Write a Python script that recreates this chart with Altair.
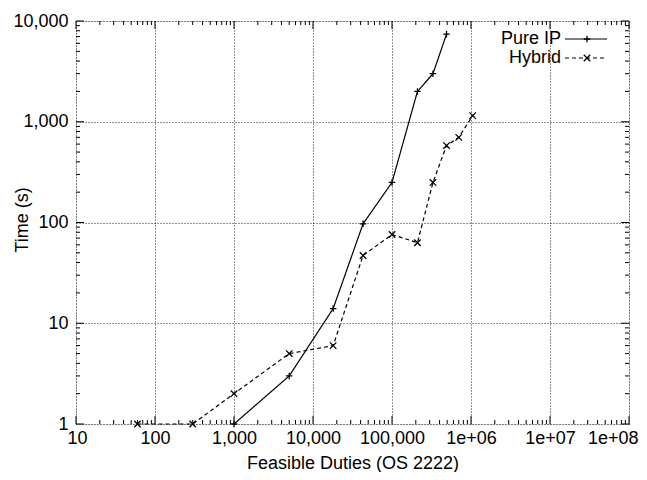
import altair as alt
import pandas as pd

# ---- data ----
pure_x = [1000, 5000, 18000, 43000, 100000, 210000, 330000, 490000]
pure_y = [1, 3, 14, 97, 250, 2000, 3000, 7400]
hyb_x = [60, 300, 1000, 5000, 18000, 43000, 100000, 210000, 330000, 490000, 700000, 1050000]
hyb_y = [1, 1, 2, 5, 6, 47, 76, 63, 250, 580, 700, 1150]
series_names = ["Pure IP", "Hybrid"]

x_ticks = [10, 100, 1000, 10000, 100000, 1000000, 10000000, 100000000]
y_ticks = [1, 10, 100, 1000, 10000]
x_minor = [k * 10 ** d for d in range(1, 8) for k in range(2, 10)]
y_minor = [k * 10 ** d for d in range(0, 4) for k in range(2, 10)]

W, H = 553, 403
FONT = "Liberation Sans"
FS = 18

PLUS = "M-1,0L1,0M0,-1L0,1"
CROSS = "M-1,-1L1,1M-1,1L1,-1"

pure = pd.DataFrame({"x": pure_x, "y": pure_y, "s": series_names[0]})
hyb = pd.DataFrame({"x": hyb_x, "y": hyb_y, "s": series_names[1]})

xs = alt.Scale(type="log", domain=[10, 1e8], nice=False)
ys = alt.Scale(type="log", domain=[1, 10000], nice=False)

x_axis = alt.Axis(
    values=x_ticks, title="Feasible Duties (OS 2222)",
    labelExpr="datum.value >= 1000000 ? '1e+0' + format(log(datum.value)/log(10), '.0f') : format(datum.value, ',')",
    grid=True, gridDash=[1, 2], gridColor="#000", gridOpacity=0.85, gridWidth=1,
    ticks=False, domain=False, labelFont=FONT, labelFontSize=FS, labelColor="#000",
    labelPadding=5, labelFlush=True, labelFlushOffset=9, labelOverlap=False,
    titleFont=FONT, titleFontSize=FS, titleFontWeight="normal", titleColor="#000",
    titleY=44, titleBaseline="alphabetic",
)
y_axis = alt.Axis(
    values=y_ticks, title="Time (s)", format=",",
    grid=True, gridDash=[1, 2], gridColor="#000", gridOpacity=0.85, gridWidth=1,
    ticks=False, domain=False, labelFont=FONT, labelFontSize=FS, labelColor="#000",
    labelPadding=8, labelFlush=False, labelOverlap=False,
    titleFont=FONT, titleFontSize=FS, titleFontWeight="normal", titleColor="#000",
    titleX=-54, titleY=H / 2 - 3, titleAngle=-90, titleAlign="center", titleBaseline="middle",
)


def X(field):
    return alt.X(field, scale=xs, axis=x_axis, title="Feasible Duties (OS 2222)")


def Y(field):
    return alt.Y(field, scale=ys, axis=y_axis, title="Time (s)")


def series(df, dash, shape):
    line = alt.Chart(df).mark_line(color="#000", strokeWidth=1.2, strokeDash=dash).encode(
        x=X("x:Q"), y=Y("y:Q")
    )
    pts = alt.Chart(df).mark_point(shape=shape, size=42, filled=False, color="#000",
                                   strokeWidth=1.3, opacity=1).encode(
        x=X("x:Q"), y=Y("y:Q")
    )
    return [line, pts]


def xticks(vals, ln):
    df = pd.DataFrame({"x": vals})
    base = alt.Chart(df).mark_rule(color="#000", strokeWidth=1)
    return [
        base.encode(x=X("x:Q"), y=alt.value(H), y2=alt.value(H - ln)),
        base.encode(x=X("x:Q"), y=alt.value(0), y2=alt.value(ln)),
    ]


def yticks(vals, ln):
    df = pd.DataFrame({"y": vals})
    base = alt.Chart(df).mark_rule(color="#000", strokeWidth=1)
    return [
        base.encode(y=Y("y:Q"), x=alt.value(0), x2=alt.value(ln)),
        base.encode(y=Y("y:Q"), x=alt.value(W), x2=alt.value(W - ln)),
    ]


one = pd.DataFrame({"a": [0]})


def legend_row(label, yv, dash, shape):
    txt = alt.Chart(one).mark_text(text=label, align="right", baseline="middle",
                                   font=FONT, fontSize=FS, color="#000").encode(
        x=alt.value(485), y=alt.value(yv))
    rule = alt.Chart(one).mark_rule(color="#000", strokeWidth=1.2, strokeDash=dash).encode(
        x=alt.value(489), x2=alt.value(531), y=alt.value(yv))
    pt = alt.Chart(one).mark_point(shape=shape, size=42, filled=False, color="#000",
                                   strokeWidth=1.3, opacity=1).encode(
        x=alt.value(511), y=alt.value(yv))
    return [txt, rule, pt]


layers = []
layers += series(pure, [1, 0], PLUS)
layers += series(hyb, [4, 3], CROSS)
layers += xticks(x_ticks, 8) + xticks(x_minor, 4) + yticks(y_ticks, 8) + yticks(y_minor, 4)
layers += legend_row(series_names[0], 18, [1, 0], PLUS)
layers += legend_row(series_names[1], 37, [4, 3], CROSS)

chart = alt.layer(*layers).properties(
    width=W, height=H,
    autosize=alt.AutoSizeParams(type="none"),
    padding={"left": 68, "top": 13, "right": 10, "bottom": 48},
).configure_view(stroke="#000", strokeWidth=1.3).configure(background="white")

chart.save("out.html", embed_options={"renderer": "svg", "actions": False})
